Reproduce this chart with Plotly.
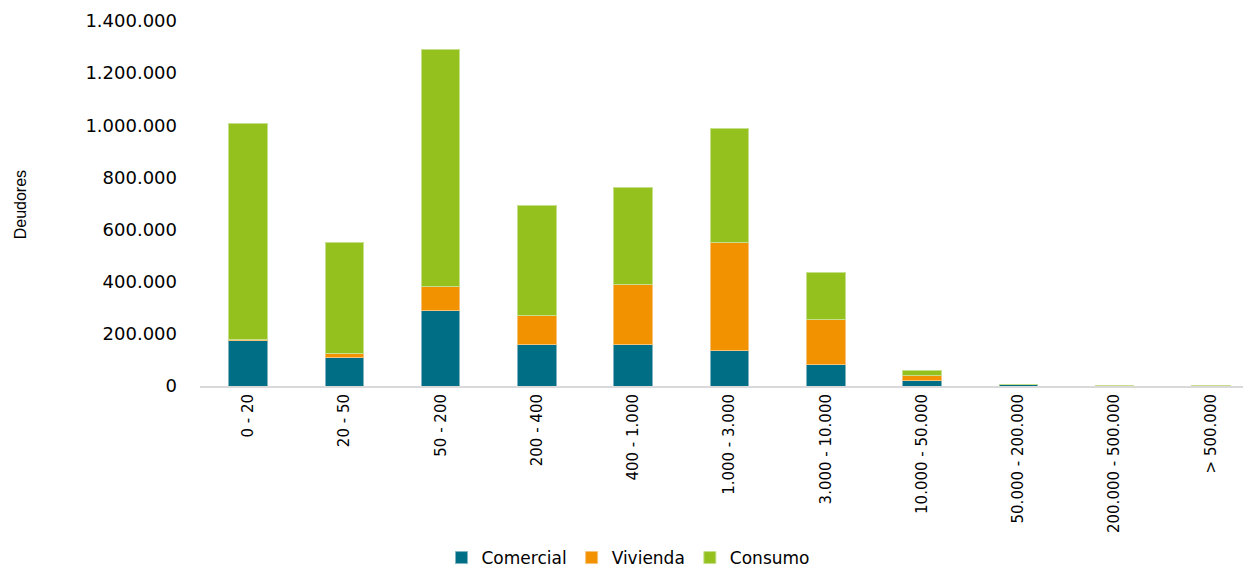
import plotly.graph_objects as go

# tramos de deuda (miles de pesos)
tramos = ["0 - 20", "20 - 50", "50 - 200", "200 - 400", "400 - 1.000",
          "1.000 - 3.000", "3.000 - 10.000", "10.000 - 50.000",
          "50.000 - 200.000", "200.000 - 500.000", "> 500.000"]

comercial = [173000, 110000, 291000, 158000, 158000, 137000, 83000, 23000, 4000, 600, 300]
vivienda = [7000, 15000, 89000, 112000, 233000, 415000, 173000, 17000, 500, 100, 50]
consumo = [825000, 427000, 909000, 424000, 372000, 434000, 181000, 21000, 1500, 500, 350]

y_ticks = [0, 200000, 400000, 600000, 800000, 1000000, 1200000, 1400000]

colors = {"Comercial": "#006f86", "Vivienda": "#f39200", "Consumo": "#95c11f"}
edges = {"Comercial": "#7fb4c0", "Vivienda": "#f7c27a", "Consumo": "#c6df8c"}

fig = go.Figure()
for name, vals in [("Comercial", comercial), ("Vivienda", vivienda), ("Consumo", consumo)]:
    fig.add_trace(go.Bar(
        x=tramos, y=vals, name=name,
        marker=dict(color=colors[name], line=dict(width=1, color=edges[name])),
    ))

# page has an 8px body margin; the figure runs a little past the window like the original
plot_w = 1251 - 192
fig.update_layout(
    width=1251, height=571,
    barmode="stack",
    bargap=0.6,
    separators=",.",
    plot_bgcolor="white",
    paper_bgcolor="white",
    margin=dict(l=192, r=0, t=13, b=193, autoexpand=False),
    font=dict(family="DejaVu Sans", color="#000000"),
    legend=dict(
        orientation="h",
        traceorder="normal",
        x=(628 - 200) / plot_w, xanchor="center",
        y=-172 / 365, yanchor="middle",
        font=dict(family="DejaVu Sans", size=17, color="#000000"),
        itemwidth=30,
        tracegroupgap=0,
    ),
    annotations=[dict(
        text="Deudores", textangle=-90,
        xref="paper", yref="paper",
        x=-180 / plot_w, y=0.495, xanchor="center", yanchor="middle",
        showarrow=False,
        font=dict(family="Liberation Sans", size=16, color="#000000"),
    )],
)

fig.update_xaxes(
    range=[-0.5, 10.5],
    tickangle=-90,
    tickfont=dict(family="DejaVu Sans", size=15, color="#000000"),
    showline=True, linecolor="#d9d9d9", linewidth=2,
    showgrid=False, ticks="",
)
fig.update_yaxes(
    range=[0, 1400000],
    tickvals=y_ticks,
    tickformat=",",
    tickfont=dict(family="DejaVu Sans", size=18, color="#000000"),
    ticklabelstandoff=22,
    showgrid=False, zeroline=False, showline=False, ticks="",
)

fig.write_html("out.html")
